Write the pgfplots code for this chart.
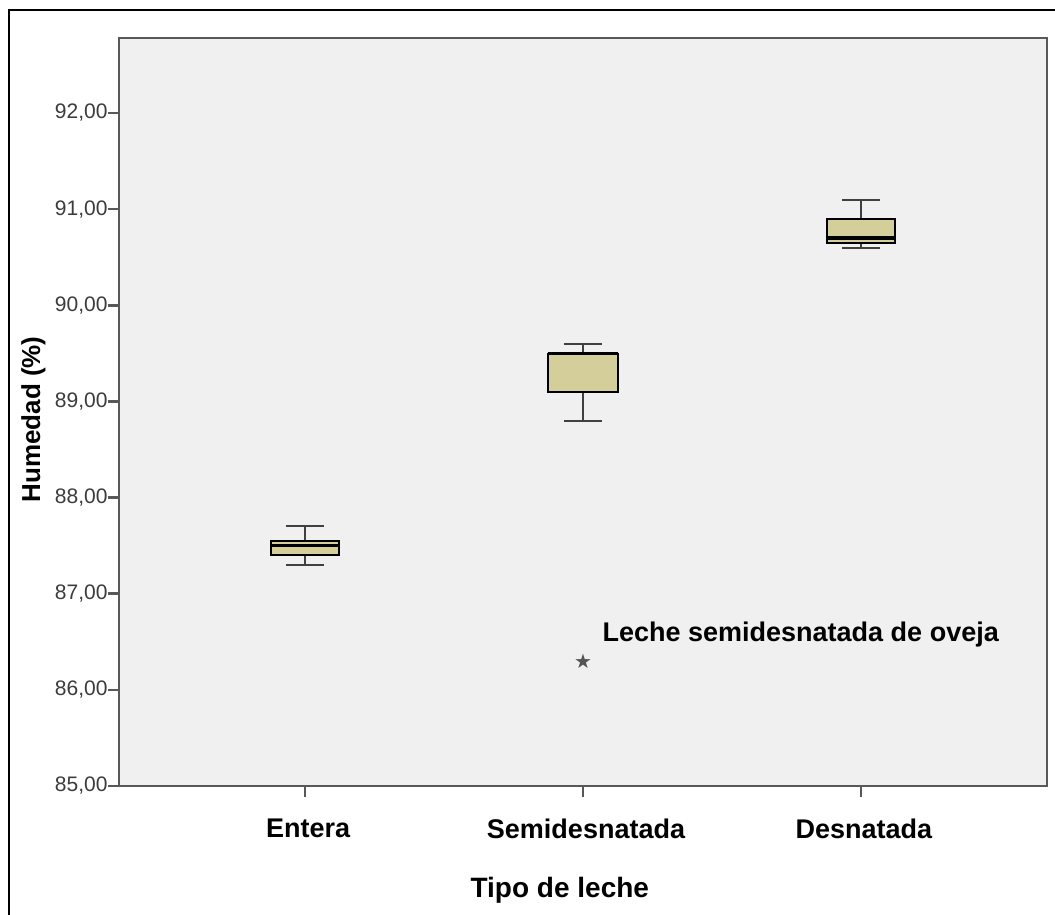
\documentclass[border=0pt]{standalone}
\usepackage{fontspec}
\setmainfont{Liberation Sans}
\newfontfamily\dejavu{DejaVu Sans}
\usepackage{pgfplots}
\pgfplotsset{compat=1.18}
\definecolor{bg}{RGB}{240,240,240}
\definecolor{boxfill}{RGB}{212,207,154}
\definecolor{axgray}{RGB}{88,88,88}
\definecolor{ticktext}{RGB}{60,60,60}
\definecolor{stargray}{RGB}{85,85,85}
\begin{document}
\begin{tikzpicture}
\useasboundingbox (0pt,0pt) rectangle (1055pt,915pt);
\fill[white] (0pt,0pt) rectangle (1055pt,915pt);
\draw[black, line width=1.2pt] (9pt,0pt) -- (9pt,905pt) -- (1056pt,905pt);
\begin{axis}[
  at={(119pt,129pt)}, anchor=south west,
  scale only axis, width=928pt, height=748pt,
  xmin=0.33, xmax=3.67, ymin=85, ymax=92.78,
  axis background/.style={fill=bg},
  axis line style={axgray, line width=2.5pt},
  xtick={1,2,3}, xticklabels={Entera,Semidesnatada,Desnatada},
  ytick={85,86,87,88,89,90,91,92},
  yticklabels={85{,}00,86{,}00,87{,}00,88{,}00,89{,}00,90{,}00,91{,}00,92{,}00},
  tick align=outside, tick pos=left,
  major tick length=11pt,
  tick style={axgray, line width=2.5pt},
  xticklabel style={font=\fontsize{27}{30}\selectfont\bfseries, yshift=-18pt, xshift=3pt},
  yticklabel style={font=\fontsize{21}{24}\selectfont, text=ticktext, xshift=3pt},
  xlabel={Tipo de leche},
  ylabel={Humedad (\%)},
  xlabel style={font=\fontsize{28}{31}\selectfont\bfseries, at={(axis description cs:0.475,0)}, anchor=north, yshift=-88pt},
  ylabel style={font=\fontsize{26}{29}\selectfont\bfseries, at={(ticklabel cs:0.49)}, yshift=2.5pt},
  clip=false,
]
% Entera
\addplot[black!75, line width=2pt] coordinates {(1,87.30) (1,87.40)};
\addplot[black!75, line width=2pt] coordinates {(1,87.55) (1,87.70)};
\addplot[black!75, line width=2pt] coordinates {(0.9325,87.30) (1.0675,87.30)};
\addplot[black!75, line width=2pt] coordinates {(0.9325,87.70) (1.0675,87.70)};
\addplot[fill=boxfill, draw=black, line width=1.6pt] coordinates {(0.8775,87.40) (1.1225,87.40) (1.1225,87.55) (0.8775,87.55)} -- cycle;
\addplot[black, line width=3.5pt] coordinates {(0.8775,87.50) (1.1225,87.50)};
% Semidesnatada
\addplot[black!75, line width=2pt] coordinates {(2,88.80) (2,89.10)};
\addplot[black!75, line width=2pt] coordinates {(2,89.50) (2,89.60)};
\addplot[black!75, line width=2pt] coordinates {(1.9325,88.80) (2.0675,88.80)};
\addplot[black!75, line width=2pt] coordinates {(1.9325,89.60) (2.0675,89.60)};
\addplot[fill=boxfill, draw=black, line width=1.6pt] coordinates {(1.875,89.10) (2.125,89.10) (2.125,89.50) (1.875,89.50)} -- cycle;
\addplot[black, line width=3.5pt] coordinates {(1.875,89.50) (2.125,89.50)};
% Desnatada
\addplot[black!75, line width=2pt] coordinates {(3,90.60) (3,90.65)};
\addplot[black!75, line width=2pt] coordinates {(3,90.90) (3,91.10)};
\addplot[black!75, line width=2pt] coordinates {(2.9325,90.60) (3.0675,90.60)};
\addplot[black!75, line width=2pt] coordinates {(2.9325,91.10) (3.0675,91.10)};
\addplot[fill=boxfill, draw=black, line width=1.6pt] coordinates {(2.8775,90.65) (3.1225,90.65) (3.1225,90.90) (2.8775,90.90)} -- cycle;
\addplot[black, line width=3.5pt] coordinates {(2.8775,90.70) (3.1225,90.70)};
% outlier
\addplot[only marks, stargray, mark=text, text mark={\fontsize{20}{20}\selectfont\dejavu\color{stargray}★}] coordinates {(2,86.3)};
\node[anchor=west, font=\fontsize{27}{30}\selectfont\bfseries, inner sep=0pt] at (axis cs:2.07,86.58) {Leche semidesnatada de oveja};
\end{axis}
\end{tikzpicture}
\end{document}
